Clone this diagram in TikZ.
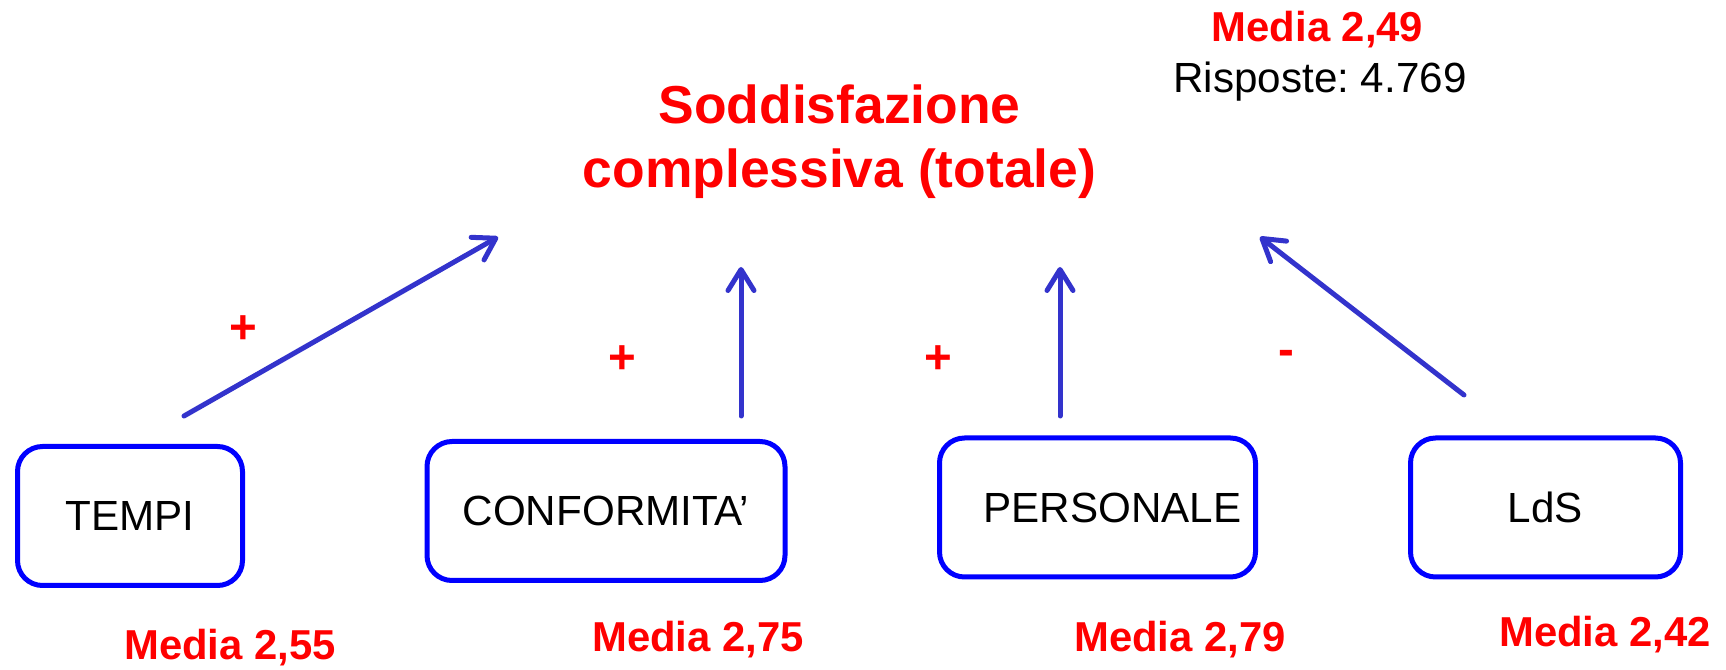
\documentclass[tikz,border=0pt]{standalone}
\usepackage{fontspec}
\setmainfont{Liberation Sans}
\usepackage{xcolor}
\usepackage{tikz}
\usetikzlibrary{arrows.meta, positioning}

\definecolor{boxblue}{RGB}{0,0,255}
\definecolor{arrowblue}{RGB}{51,51,204}
\definecolor{mediared}{RGB}{255,0,0}

\begin{document}
\begin{tikzpicture}
    \tikzstyle{block} = [rectangle, draw=boxblue, line width=0.1cm, rounded corners=0.5cm, minimum height=2.78cm, inner sep=0pt, font=\fontsize{24}{28}\selectfont]
    \tikzstyle{media} = [text=mediared, font=\bfseries\fontsize{23.8}{28}\selectfont, anchor=base, inner sep=0pt]
    \tikzstyle{sign} = [text=mediared, font=\bfseries\fontsize{27}{30}\selectfont, inner sep=0pt]
    \tikzstyle{arrow} = [draw=arrowblue, line width=0.1cm, line cap=round, -{Straight Barb[length=0.42cm, width=0.52cm, round]}]

    \useasboundingbox (0,0) rectangle (34.52,13.4);

    % titolo e totale
    \node[align=center, text=mediared, font=\bfseries\fontsize{30.4}{36.4}\selectfont] (title) at (16.79,10.56) {Soddisfazione\\complessiva (totale)};
    \node[media] (mtot) at (26.35,12.56) {Media 2,49};
    \node[anchor=base, inner sep=0pt, font=\frenchspacing\fontsize{24}{28}\selectfont] (risp) at (26.40,11.54) {Risposte: 4.769};

    % fattori
    \node[block, minimum width=4.5cm] (tempi) at (2.60,3.08) {TEMPI};
    \node[block, minimum width=7.16cm] (conf) at (12.12,3.18) {CONFORMITA'};
    \node[block, minimum width=6.32cm] (pers) at (21.95,3.25) {\hspace*{0.6cm}PERSONALE};
    \node[block, minimum width=5.4cm] (lds) at (30.91,3.25) {LdS};

    \node[media] (mtempi) at (4.60,0.20) {Media 2,55};
    \node[media] (mconf) at (13.96,0.36) {Media 2,75};
    \node[media] (mpers) at (23.60,0.36) {Media 2,79};
    \node[media] (mlds) at (32.10,0.46) {Media 2,42};

    % estremi delle frecce
    \coordinate (t0) at (3.68,5.08);
    \coordinate (t1) at (9.96,8.66);
    \coordinate (c0) at (14.82,5.08);
    \coordinate (c1) at (14.82,8.06);
    \coordinate (p0) at (21.20,5.08);
    \coordinate (p1) at (21.20,8.06);
    \coordinate (l0) at (29.28,5.50);
    \coordinate (l1) at (25.20,8.66);

    \draw[arrow] (t0) -- (t1);
    \draw[arrow] (c0) -- (c1);
    \draw[arrow] (p0) -- (p1);
    \draw[arrow] (l0) -- (l1);

    \node[sign] (st) at (4.86,6.80) {+};
    \node[sign] (sc) at (12.44,6.20) {+};
    \node[sign] (sp) at (18.76,6.20) {+};
    \node[sign] (sl) at (25.72,6.24) {-};
\end{tikzpicture}
\end{document}
